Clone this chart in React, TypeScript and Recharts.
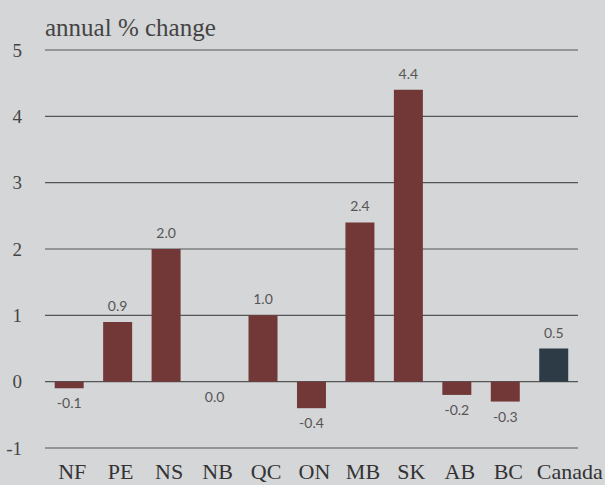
import React from "react";
import {
  BarChart,
  Bar,
  XAxis,
  YAxis,
  CartesianGrid,
  Rectangle,
} from "recharts";

const provinces = ["NF", "PE", "NS", "NB", "QC", "ON", "MB", "SK", "AB", "BC", "Canada"];
const changes = [-0.1, 0.9, 2.0, 0.0, 1.0, -0.4, 2.4, 4.4, -0.2, -0.3, 0.5];
const yTicks = [-1, 0, 1, 2, 3, 4, 5];

const BG = "#d5d6d8";
const PROV_COLOR = "#723838";
const CANADA_COLOR = "#2c3b45";
const SERIF = "'Liberation Serif', 'DejaVu Serif', serif";

const data = provinces.map((p, i) => ({ name: p, value: changes[i] }));

// bar plus its value label, so that the 0.0 bar still gets a label
const BarWithLabel = (props: any) => {
  const { x, y, width, height, value, payload } = props;
  const v = Array.isArray(value) ? payload.value : value;
  const top = Math.min(y, y + height);
  const bottom = Math.max(y, y + height);
  const cx = x + width / 2;
  const ty = v > 0 ? top - 11 : bottom + 20;
  const fill = payload.name === "Canada" ? CANADA_COLOR : PROV_COLOR;
  return (
    <g>
      {Math.abs(height) > 0 && (
        <Rectangle x={x} y={top} width={width} height={bottom - top} fill={fill} />
      )}
      <text
        x={cx}
        y={ty}
        textAnchor="middle"
        fill="#555"
        fontSize={14}
        fontFamily="Lato, 'Open Sans', sans-serif"
      >
        {v.toFixed(1)}
      </text>
    </g>
  );
};

const CategoryTick = (props: any) => {
  const { x, y, payload } = props;
  const shift = payload.value === "Canada" ? 16 : 3;
  return (
    <text
      x={x + shift}
      y={y}
      dy="0.71em"
      textAnchor="middle"
      fill="#333"
      fontSize={22}
      fontFamily={SERIF}
    >
      {payload.value}
    </text>
  );
};

const App: React.FC = () => {
  return (
    <div
      style={{
        position: "fixed",
        left: 0,
        top: 0,
        width: 605,
        height: 485,
        background: BG,
      }}
    >
      <div
        style={{
          position: "absolute",
          left: 45,
          top: 14,
          fontFamily: SERIF,
          fontSize: 25,
          color: "#444",
        }}
      >
        annual % change
      </div>
      <BarChart
        width={605}
        height={485}
        data={data}
        margin={{ top: 50, right: 27, bottom: 0, left: 0 }}
        barCategoryGap="20%"
      >
        <CartesianGrid vertical={false} stroke="#555" strokeWidth={1.2} />
        <XAxis
          dataKey="name"
          axisLine={false}
          tickLine={false}
          tickSize={0}
          tickMargin={15}
          height={37}
          interval={0}
          tick={CategoryTick}
        />
        <YAxis
          domain={[-1, 5]}
          ticks={yTicks}
          axisLine={false}
          tickLine={false}
          tickSize={0}
          tickMargin={23}
          width={45}
          tick={{ fill: "#444", fontSize: 19, fontFamily: SERIF }}
        />
        <Bar dataKey="value" isAnimationActive={false} shape={BarWithLabel} />
      </BarChart>
    </div>
  );
};

export default App;
